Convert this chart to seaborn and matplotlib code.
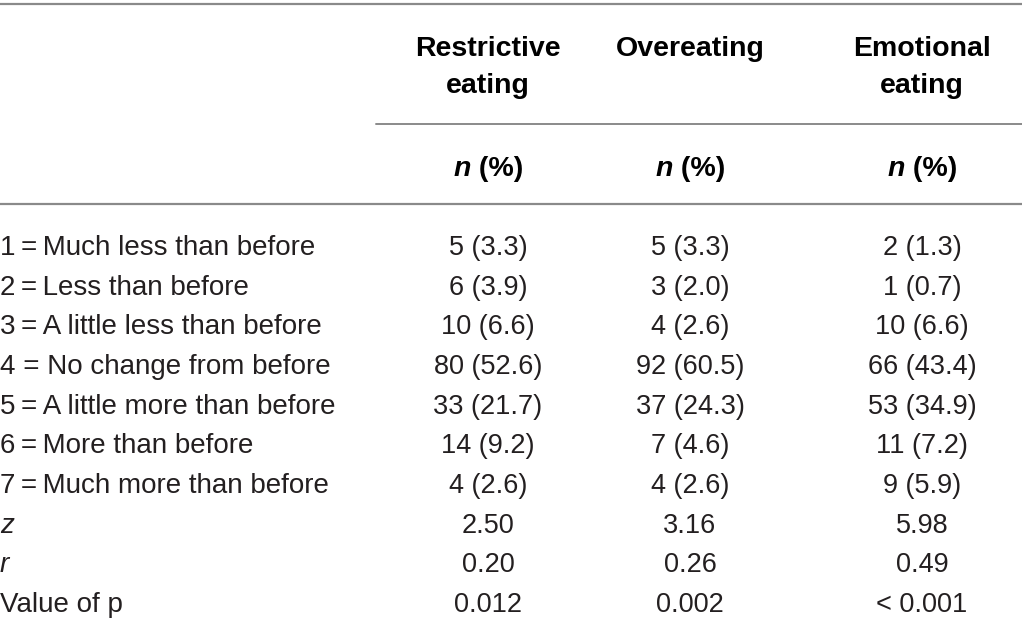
import matplotlib
matplotlib.use('Agg')
import matplotlib.pyplot as plt
import seaborn as sns

# ============================================================
# Table data
# ============================================================
columns = ['Restrictive\neating', 'Overeating', 'Emotional\neating']
row_labels = ['1\u2009=\u2009Much less than before', '2\u2009=\u2009Less than before',
              '3\u2009=\u2009A little less than before', '4 = No change from before',
              '5\u2009=\u2009A little more than before', '6\u2009=\u2009More than before',
              '7\u2009=\u2009Much more than before', 'z', 'r', 'Value of p']
restrictive = ['5 (3.3)', '6 (3.9)', '10 (6.6)', '80 (52.6)', '33 (21.7)',
               '14 (9.2)', '4 (2.6)', '2.50', '0.20', '0.012']
overeating = ['5 (3.3)', '3 (2.0)', '4 (2.6)', '92 (60.5)', '37 (24.3)',
              '7 (4.6)', '4 (2.6)', '3.16', '0.26', '0.002']
emotional = ['2 (1.3)', '1 (0.7)', '10 (6.6)', '66 (43.4)', '53 (34.9)',
             '11 (7.2)', '9 (5.9)', '5.98', '0.49', '< 0.001']
italic_labels = ['z', 'r']

sns.set_theme(style='white')
plt.rcParams['font.family'] = ['Liberation Sans', 'DejaVu Sans']

fig = plt.figure(figsize=(10.22, 6.27), dpi=100)
ax = fig.add_axes([0, 0, 1, 1])
ax.set_xlim(0, 1022)
ax.set_ylim(627, 0)
ax.axis('off')

col_x = [488, 690, 922]
fs = 19.5
fs_label = 20
fs_head = 20.5
txt = '#231f20'
line_c = '#8a8a8a'

# rules
ax.axhline(4, color=line_c, lw=1.6)
ax.plot([376, 1022], [124, 124], color=line_c, lw=1.4)
ax.axhline(204, color=line_c, lw=1.6)

# header
for x, name in zip(col_x, columns):
    for k, part in enumerate(name.split('\n')):
        ax.text(x, 56 + k * 37, part, ha='center', va='baseline',
                fontsize=fs_head, fontweight='bold', color='black')

# "n (%)" sub-header, italic n + upright (%), centred as one piece
fig.canvas.draw()
renderer = fig.canvas.get_renderer()
for x in col_x:
    t1 = ax.text(0, 176, 'n', va='baseline', fontsize=fs_head,
                 fontweight='bold', fontstyle='italic', color='black')
    t2 = ax.text(0, 176, '\u00a0(%)', va='baseline', fontsize=fs_head,
                 fontweight='bold', color='black')
    w1 = t1.get_window_extent(renderer).width
    w2 = t2.get_window_extent(renderer).width
    left = x - (w1 + w2) / 2
    t1.set_x(left)
    t2.set_x(left + w1)

# body
for i, label in enumerate(row_labels):
    y = 255 + i * 39.67
    ax.text(0, y, label, ha='left', va='baseline', fontsize=fs_label, color=txt,
            fontstyle='italic' if label in italic_labels else 'normal')
    for x, vals in zip(col_x, [restrictive, overeating, emotional]):
        ax.text(x, y, vals[i], ha='center', va='baseline', fontsize=fs,
                color=txt)

plt.savefig('out.png', dpi=100)
